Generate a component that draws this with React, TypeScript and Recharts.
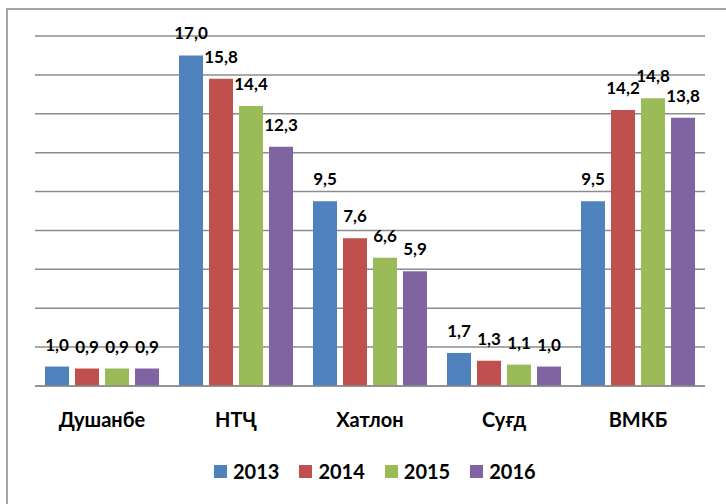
import { BarChart, Bar, XAxis, YAxis, CartesianGrid, Legend, LabelList } from "recharts";

const regions = ["Душанбе", "НТҶ", "Хатлон", "Суғд", "ВМКБ"];
const years = ["2013", "2014", "2015", "2016"];
const values2013 = [1.0, 17.0, 9.5, 1.7, 9.5];
const values2014 = [0.9, 15.8, 7.6, 1.3, 14.2];
const values2015 = [0.9, 14.4, 6.6, 1.1, 14.8];
const values2016 = [0.9, 12.3, 5.9, 1.0, 13.8];
const yTicks = [0, 2, 4, 6, 8, 10, 12, 14, 16, 18];

const colors = ["#4F81BD", "#C0504D", "#9BBB59", "#8064A2"];
const seriesValues = [values2013, values2014, values2015, values2016];

const data = regions.map((region, i) => {
    const row: Record<string, string | number> = { region };
    years.forEach((y, j) => {
        row[y] = seriesValues[j][i];
    });
    return row;
});

const font = "Lato, 'Open Sans', sans-serif";
const fmt = (v: any) => Number(v).toFixed(1).replace(".", ",");

// legend is drawn by hand so the squares and spacing match
const renderLegend = (props: any) => (
    <div
        style={{
            display: "flex",
            paddingLeft: 214,
            height: 24,
            fontFamily: font,
            fontWeight: 700,
            fontSize: 20,
            lineHeight: "24px",
            color: "#000",
        }}
    >
        {(props.payload || []).map((p: any) => (
            <span key={p.value} style={{ display: "inline-flex", alignItems: "center", marginRight: 20 }}>
                <span style={{ width: 13, height: 13, background: p.color, marginRight: 6 }} />
                <span>{p.value}</span>
            </span>
        ))}
    </div>
);

export default function App() {
    return (
        <div
            style={{
                position: "fixed",
                left: 0,
                top: 0,
                width: 726,
                height: 504,
                overflow: "hidden",
                background: "#fff",
            }}
        >
            <div
                style={{
                    position: "absolute",
                    left: 6,
                    top: 8,
                    width: 740,
                    height: 520,
                    borderTop: "2px solid #a6a6a6",
                    borderLeft: "2px solid #a6a6a6",
                    boxSizing: "border-box",
                }}
            />
            <div style={{ position: "absolute", left: 0, top: 0 }}>
                <BarChart
                    width={726}
                    height={504}
                    data={data}
                    margin={{ top: 36, right: 21, bottom: 64, left: 35 }}
                    barSize={24}
                    barGap={6}
                >
                    <CartesianGrid vertical={false} stroke="#8c8c8c" strokeWidth={1.5} />
                    <YAxis hide domain={[0, 18]} ticks={yTicks} />
                    <XAxis
                        dataKey="region"
                        height={30}
                        axisLine={{ stroke: "#8c8c8c", strokeWidth: 1.5 }}
                        tickLine={false}
                        tickMargin={21}
                        tick={{ fill: "#000", fontFamily: font, fontWeight: 700, fontSize: 20 }}
                    />
                    <Legend
                        layout="horizontal"
                        verticalAlign="bottom"
                        align="center"
                        wrapperStyle={{ top: 459, left: 0, width: 726 }}
                        content={renderLegend}
                    />
                    {years.map((y, j) => (
                        <Bar key={y} dataKey={y} fill={colors[j]} isAnimationActive={false}>
                            <LabelList
                                dataKey={y}
                                position="top"
                                offset={16}
                                formatter={fmt}
                                style={{ fill: "#000", fontFamily: font, fontWeight: 700, fontSize: 17 }}
                            />
                        </Bar>
                    ))}
                </BarChart>
            </div>
        </div>
    );
}
